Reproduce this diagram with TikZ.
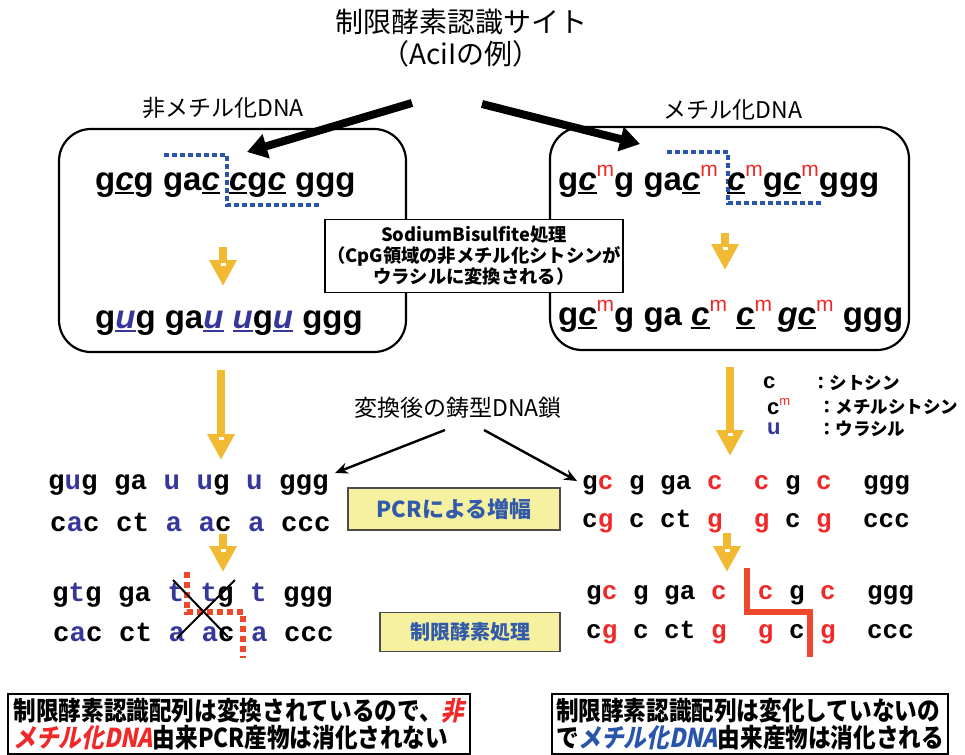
\documentclass[tikz,border=0pt]{standalone}
\usepackage{fontspec}
\usepackage{xcolor}
\usetikzlibrary{arrows.meta,positioning,calc}

\setmainfont{Liberation Sans}
\newfontfamily\jp{Noto Sans CJK JP}
\newfontfamily\jpc[FakeStretch=0.87]{Noto Sans CJK JP}
\newfontfamily\jpcsl[FakeStretch=0.87,FakeSlant=0.2]{Noto Sans CJK JP}
\newfontfamily\mono{Liberation Mono}

\definecolor{ublue}{RGB}{55,55,155}
\definecolor{dotblue}{RGB}{40,85,170}
\definecolor{mred}{RGB}{240,40,40}
\definecolor{cutred}{RGB}{238,72,45}
\definecolor{arryel}{RGB}{242,185,50}
\definecolor{boxyel}{RGB}{245,241,160}
\definecolor{txtblue}{RGB}{50,90,170}

% underlined italic base, methyl mark, coloured bases
\newcommand\ulc[1]{\setbox0\hbox{\itshape #1}\rlap{\rule[-4pt]{\wd0}{1.8pt}}\box0\relax}
\newcommand\methm[1][21]{\textcolor{mred}{\raisebox{0.4em}{\fontsize{#1}{#1}\selectfont\mdseries m}}}
\newcommand\bse[1]{\textcolor{ublue}{#1}}
\newcommand\rse[1]{\textcolor{mred}{#1}}

\begin{document}
\begin{tikzpicture}[x=1pt, y=-1pt,
  ttl/.style={font=\jp\fontsize{28}{30}\selectfont, inner sep=0pt},
  lbl/.style={font=\jp\fontsize{23}{25}\selectfont, inner sep=0pt},
  rbox/.style={draw, line width=2.2pt, rounded corners=32pt},
  seqbig/.style={anchor=base west, inner sep=0pt, font=\fontsize{33}{33}\selectfont\bfseries},
  seqL/.style={anchor=west, inner sep=0pt, font=\mono\fontsize{27.5}{27.5}\selectfont\bfseries},
  seqR/.style={anchor=west, inner sep=0pt, font=\mono\fontsize{26}{26}\selectfont\bfseries},
  bisbox/.style={draw, line width=1.3pt, fill=white, minimum width=298pt, minimum height=73pt,
    align=center, inner sep=1pt, font=\jp\bfseries\fontsize{18.3}{21}\selectfont},
  ybox/.style={draw=black!70, line width=1.5pt, fill=boxyel, text=txtblue, inner sep=0pt},
  note/.style={draw, line width=1.5pt, fill=white, align=left, inner sep=4pt,
    font=\jpc\bfseries\fontsize{26}{27}\selectfont},
  lgl/.style={anchor=west, inner sep=0pt, font=\fontsize{22}{22}\selectfont\bfseries},
  lgt/.style={anchor=west, inner sep=0pt, font=\jp\bfseries\fontsize{17.5}{18}\selectfont},
  bigarr/.style={line width=8pt, -{Triangle[length=20pt,width=24pt]}},
  thinarr/.style={line width=2.4pt, -{Stealth[length=13pt,width=11pt]}},
  yarr/.style={arryel, line width=8.5pt, -{Triangle[length=26pt,width=26pt]}},
  recog/.style={dotblue, line width=4pt, dash pattern=on 5pt off 3pt},
  cut/.style={cutred, line width=6pt}
]
\useasboundingbox (0,0) rectangle (965,754);

\node[ttl] (title) at (461,22) {制限酵素認識サイト};
\node[ttl] (title2) at (461,54) {（AciIの例）};
\node[lbl] (unmet) at (223,108) {非メチル化DNA};
\node[lbl] (met) at (733,110) {メチル化DNA};

% the two samples
\draw[rbox] (59,129) rectangle (406,352);
\draw[rbox] (550,127) rectangle (909,350);

\coordinate (fromL) at (412,103);
\coordinate (toL) at (247,152);
\coordinate (fromR) at (482,104);
\coordinate (toR) at (640,144);
\draw[bigarr] (fromL) -- (toL);
\draw[bigarr] (fromR) -- (toR);

\draw[recog] (164,155) -- (227,155) -- (227,205) -- (319,205);
\draw[recog] (667,152) -- (728,152) -- (728,203) -- (822,203);

\node[seqbig] (umA) at (95,190) {g\ulc{c}g ga\ulc{c} \ulc{c}g\ulc{c} ggg};
\node[seqbig] (umB) at (95,328) {g\bse{\ulc{u}}g ga\bse{\ulc{u}} \bse{\ulc{u}}g\bse{\ulc{u}} ggg};
\node[seqbig] (mA) at (558,190) {g\ulc{c}\methm g ga\ulc{c}\methm\ \ulc{c}\methm g\ulc{c}\methm ggg};
\node[seqbig] (mB) at (558,325) {g\ulc{c}\methm g ga \ulc{c}\methm\ \ulc{c}\methm\,{\itshape g}\ulc{c}\methm\ ggg};

\node[bisbox] (bis) at (474,256) {SodiumBisulfite処理\\（CpG領域の非メチル化シトシンが\\ウラシルに変換される）};

% yellow arrows
\foreach \n/\x/\ya/\yb in {a/223/247/286, b/725/233/270, c/221/370/460,
    d/730/367/456, e/223/534/572, f/727/533/572} {
  \coordinate (y\n0) at (\x,\ya);
  \coordinate (y\n1) at (\x,\yb);
  \draw[yarr] (y\n0) -- (y\n1);
  \fill[white] ($(y\n1)+(-2.5,-23)$) rectangle +(5,3);
}

% legend
\node[lgl] (lgc) at (763,383) {c};
\node[lgt] (lgct) at (812,383) {：シトシン};
\node[lgl] (lgm) at (767,407) {c\methm[13]};
\node[lgt] (lgmt) at (818,407) {：メチルシトシン};
\node[lgl] (lgu) at (767,429) {\bse{u}};
\node[lgt] (lgut) at (818,429) {：ウラシル};

\node[lbl] (tmpl) at (458,408) {変換後の鋳型DNA鎖};
\coordinate (tmplL) at (445,430);
\coordinate (tmplR) at (484,430);
\coordinate (toP) at (335,473);
\coordinate (toQ) at (577,481);
\draw[thinarr] (tmplL) -- (toP);
\draw[thinarr] (tmplR) -- (toQ);

% templates and PCR products
\node[seqL] (p1) at (48,485) {g\bse{u}g ga \bse{u} \bse{u}g \bse{u} ggg};
\node[seqL] (p2) at (50,522) {c\bse{a}c ct \bse{a} \bse{a}c \bse{a} ccc};
\node[seqL] (p3) at (52,595) {g\bse{t}g ga \bse{t} \bse{t}g \bse{t} ggg};
\node[seqL] (p4) at (53,632) {c\bse{a}c ct \bse{a} \bse{a}c \bse{a} ccc};
\node[seqR] (q1) at (582,485) {g\rse{c} g ga \rse{c}~ \rse{c} g \rse{c}~ ggg};
\node[seqR] (q2) at (582,522) {c\rse{g} c ct \rse{g}~ \rse{g} c \rse{g}~ ccc};
\node[seqR] (q3) at (586,595) {g\rse{c} g ga \rse{c}~ \rse{c} g \rse{c}~ ggg};
\node[seqR] (q4) at (586,633) {c\rse{g} c ct \rse{g}~ \rse{g} c \rse{g}~ ccc};

\node[ybox, minimum width=212pt, minimum height=42pt, font=\jp\bfseries\fontsize{22}{22}\selectfont]
  (pcr) at (454,509) {PCRによる増幅};
\node[ybox, minimum width=180pt, minimum height=39pt, font=\jp\bfseries\fontsize{20}{20}\selectfont]
  (enz) at (470,632) {制限酵素処理};

\draw[cutred, line width=6pt, dash pattern=on 6pt off 4pt] (187,572) -- (187,612) -- (243,612) -- (243,658);
\draw[line width=2pt] (173,580) -- (228,637);
\draw[line width=2pt] (235,580) -- (177,638);
\draw[cut] (747,568) -- (747,612) -- (810,612) -- (810,657);

% conclusions
\node[note, minimum width=462pt, minimum height=56pt] (noteL) at (239,724)
  {制限酵素認識配列は変換されているので、{\jpcsl\color{mred}非}\\{\jpcsl\color{mred}メチル化DNA}由来PCR産物は消化されない};
\node[note, minimum width=393pt, minimum height=56pt] (noteR) at (750,724)
  {制限酵素認識配列は変化していないの\\で{\jpcsl\color{dotblue}メチル化DNA}由来産物は消化される};
\end{tikzpicture}
\end{document}
